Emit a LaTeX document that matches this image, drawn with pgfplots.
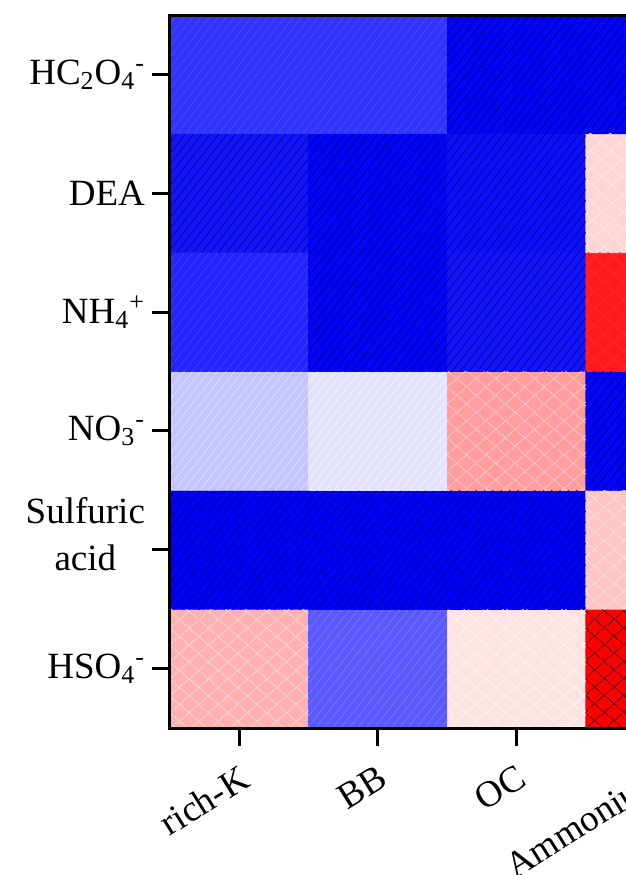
\documentclass[border=0pt]{standalone}
\usepackage{fontspec}
\setmainfont{Liberation Serif}
\usepackage{pgfplots}
\pgfplotsset{compat=1.18}
\usetikzlibrary{patterns.meta}

% cell values (correlation-like, -1 .. 1), rows from bottom (HSO4-) to top (HC2O4-)
% x: 0 rich-K, 1 BB, 2 OC, 3 Ammonium
\newcommand\cellbox[5]{\addplot[draw=none, mark=none, #5] coordinates {(#1,#3) (#2,#3) (#2,#4) (#1,#4)} -- cycle;}
\tikzset{
  lines/.style={pattern={Lines[angle=52,distance=3.3pt,line width=0.4pt]}, pattern color={rgb,255:#1}},
  cross/.style={pattern={Lines[angle=41,distance=6.5pt,line width=0.4pt]}, pattern color={rgb,255:#1},
     postaction={pattern={Lines[angle=-41,distance=6.5pt,line width=0.4pt]}, pattern color={rgb,255:#1}}},
}

\begin{document}
\begin{tikzpicture}
\useasboundingbox (0,0) rectangle (313pt,437.5pt);
\clip (0,0) rectangle (313pt,437.5pt);
\begin{axis}[
  at={(85pt,73.5pt)}, anchor=south west,
  scale only axis, width=277.2pt, height=356.5pt,
  xmin=-0.5, xmax=3.5, ymin=-0.5, ymax=5.5,
  axis on top,
  axis line style={line width=1.5pt},
  xtick={0,1,2,3},
  xticklabels={rich-K,BB,OC,Ammonium},
  ytick={0,1,2,3,4,5},
  yticklabels={HSO\textsubscript{4}\textsuperscript{-},{\raisebox{1.5pt}[0pt][0pt]{\begin{tabular}{@{}c@{}}Sulfuric\\[1pt]acid\end{tabular}}},NO\textsubscript{3}\textsuperscript{-},NH\textsubscript{4}\textsuperscript{+},DEA,HC\textsubscript{2}O\textsubscript{4}\textsuperscript{-}},
  tick align=outside, tick pos=left,
  major tick length=9pt,
  tick style={line width=1.5pt, black},
  ticklabel style={font=\fontsize{18.5}{22.5}\selectfont},
  xticklabel style={xshift=-0.5pt, yshift=-8.6pt, rotate=32, anchor=north east, inner sep=0pt},
  colormap={bwr}{rgb255=(0,0,255) rgb255=(255,255,255) rgb255=(255,0,0)},
  point meta min=-1, point meta max=1,
]
\addplot[matrix plot*, mesh/cols=4, point meta=explicit, draw=none] table[meta=v] {
x y v
0 0 0.31
1 0 -0.65
2 0 0.11
3 0 1.00
0 1 -1.00
1 1 -1.00
2 1 -1.00
3 1 0.23
0 2 -0.23
1 2 -0.11
2 2 0.39
3 2 -0.99
0 3 -0.86
1 3 -0.99
2 3 -0.92
3 3 0.90
0 4 -0.92
1 4 -0.99
2 4 -0.94
3 4 0.17
0 5 -0.80
1 5 -0.80
2 5 -0.99
3 5 -0.99
};
% patterns (line colours slightly lighter or darker than the cell)
\cellbox{-0.5}{0.5}{-0.5}{0.5}{cross={red,255;green,212;blue,212}}
\cellbox{0.5}{1.5}{-0.5}{0.5}{lines={red,118;green,118;blue,255}}
\cellbox{1.5}{2.5}{-0.5}{0.5}{cross={red,255;green,242;blue,242}}
\cellbox{2.5}{3.5}{-0.5}{0.5}{cross={red,80;green,0;blue,0}}
\cellbox{-0.5}{0.5}{0.5}{1.5}{lines={red,0;green,0;blue,130}}
\cellbox{0.5}{1.5}{0.5}{1.5}{lines={red,0;green,0;blue,130}}
\cellbox{1.5}{2.5}{0.5}{1.5}{lines={red,0;green,0;blue,130}}
\cellbox{2.5}{3.5}{0.5}{1.5}{cross={red,255;green,222;blue,222}}
\cellbox{-0.5}{0.5}{1.5}{2.5}{lines={red,222;green,222;blue,255}}
\cellbox{0.5}{1.5}{1.5}{2.5}{lines={red,243;green,243;blue,255}}
\cellbox{1.5}{2.5}{1.5}{2.5}{cross={red,255;green,196;blue,196}}
\cellbox{2.5}{3.5}{1.5}{2.5}{lines={red,0;green,0;blue,130}}
\cellbox{-0.5}{0.5}{2.5}{3.5}{lines={red,62;green,62;blue,255}}
\cellbox{0.5}{1.5}{2.5}{3.5}{lines={red,0;green,0;blue,130}}
\cellbox{1.5}{2.5}{2.5}{3.5}{lines={red,6;green,6;blue,140}}
\cellbox{2.5}{3.5}{2.5}{3.5}{cross={red,255;green,40;blue,40}}
\cellbox{-0.5}{0.5}{3.5}{4.5}{lines={red,6;green,6;blue,140}}
\cellbox{0.5}{1.5}{3.5}{4.5}{lines={red,0;green,0;blue,130}}
\cellbox{1.5}{2.5}{3.5}{4.5}{lines={red,5;green,5;blue,140}}
\cellbox{2.5}{3.5}{3.5}{4.5}{cross={red,255;green,232;blue,232}}
\cellbox{-0.5}{0.5}{4.5}{5.5}{lines={red,74;green,74;blue,255}}
\cellbox{0.5}{1.5}{4.5}{5.5}{lines={red,74;green,74;blue,255}}
\cellbox{1.5}{2.5}{4.5}{5.5}{lines={red,0;green,0;blue,130}}
\cellbox{2.5}{3.5}{4.5}{5.5}{lines={red,0;green,0;blue,130}}
\end{axis}
\end{tikzpicture}
\end{document}
